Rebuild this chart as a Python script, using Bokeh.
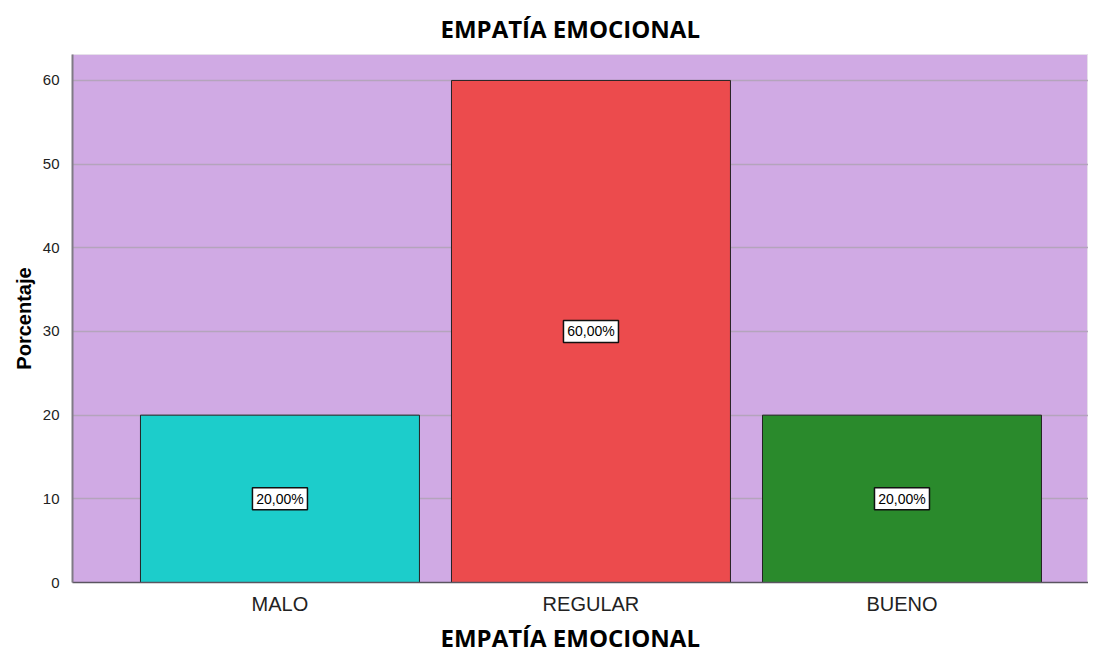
from bokeh.plotting import figure
from bokeh.models import ColumnDataSource, Range1d, FixedTicker, Title
from bokeh.core.properties import value
from bokeh.embed import file_html
from bokeh.resources import INLINE

categories = ["MALO", "REGULAR", "BUENO"]
values = [20, 60, 20]
labels = ["20,00%", "60,00%", "20,00%"]
colors = ["#1ccdcb", "#ec4b4d", "#2a8a2c"]
y_ticks = [0, 10, 20, 30, 40, 50, 60]
title_text = "EMPATÍA EMOCIONAL"
y_title = "Porcentaje"

xs = list(range(len(categories)))
src = ColumnDataSource(dict(x=xs, top=values, mid=[v / 2 for v in values],
                            label=labels, color=colors))

p = figure(width=1088, height=658, output_backend="svg", toolbar_location=None,
           x_range=Range1d(-0.667, 2.5997), y_range=Range1d(0, 63.1),
           min_border_left=72, min_border_right=0, min_border_top=0, min_border_bottom=0)

p.background_fill_color = "#d0aae4"
p.border_fill_color = "white"
p.outline_line_color = "#e6e0ea"
p.outline_line_width = 1

p.vbar(x="x", top="top", width=0.897, bottom=0, fill_color="color",
       line_color="#222222", line_width=1, source=src)

# value labels in white boxes
p.rect(x="x", y="mid", width=55, height=22, width_units="screen", height_units="screen",
       fill_color="white", line_color="#111111", line_width=1.5, source=src)
p.text(x="x", y="mid", text="label", source=src, text_align="center",
       text_baseline="middle", text_font=value("Liberation Sans"),
       text_font_size=value("14px"), text_color="black")

# grid
p.xgrid.grid_line_color = None
p.ygrid.grid_line_color = "#b4a4bc"
p.ygrid.grid_line_width = 1.5
p.ygrid.ticker = FixedTicker(ticks=y_ticks)

# y axis
p.yaxis.ticker = FixedTicker(ticks=y_ticks)
p.yaxis.axis_label = y_title
p.yaxis.axis_label_text_font = "Liberation Sans"
p.yaxis.axis_label_text_font_style = "bold"
p.yaxis.axis_label_text_font_size = "20px"
p.yaxis.axis_label_text_color = "black"
p.yaxis.axis_label_standoff = 5
p.yaxis.major_label_text_font = "Liberation Sans"
p.yaxis.major_label_text_font_size = "15px"
p.yaxis.major_label_text_color = "#222222"
p.yaxis.major_label_standoff = 7
p.yaxis.major_tick_line_color = None
p.yaxis.minor_tick_line_color = None
p.yaxis.axis_line_color = "#7f7a84"
p.yaxis.axis_line_width = 2

# x axis
p.xaxis.ticker = FixedTicker(ticks=xs)
p.xaxis.major_label_overrides = {i: c for i, c in zip(xs, categories)}
p.xaxis.major_label_text_font = "Liberation Sans"
p.xaxis.major_label_text_font_size = "20px"
p.xaxis.major_label_text_color = "#222222"
p.xaxis.major_label_standoff = 4
p.xaxis.major_tick_line_color = None
p.xaxis.minor_tick_line_color = None
p.xaxis.axis_line_color = "#5a5560"
p.xaxis.axis_line_width = 1.5

t = Title(text=title_text, align="left", offset=368,
          text_font="Open Sans", text_font_style="bold", text_font_size="24px",
          text_color="black", standoff=19)
p.add_layout(t, "above")

tb = Title(text=title_text, align="left", offset=368, vertical_align="top",
           text_font="Open Sans", text_font_style="bold", text_font_size="24px",
           text_color="black", standoff=6)
p.add_layout(tb, "below")

open("out.html", "w").write(file_html(p, INLINE))
